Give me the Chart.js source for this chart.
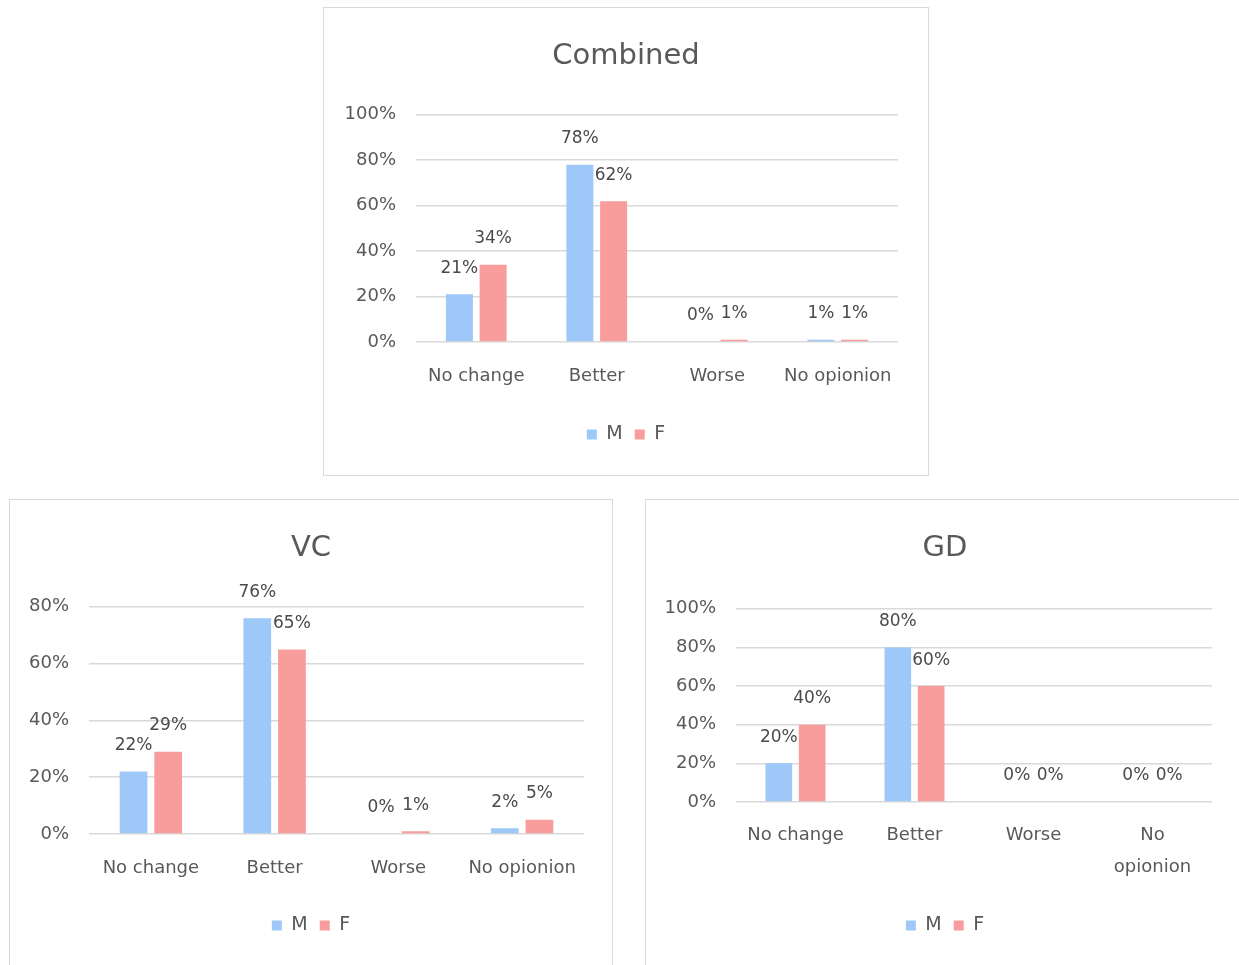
<!DOCTYPE html>
<html>
<head>
<meta charset="utf-8">
<script src="https://cdn.jsdelivr.net/npm/chart.js@4.4.1/dist/chart.umd.min.js"></script>
<style>
  body { margin: 0; background: #fff; width: 1239px; height: 965px; overflow: hidden; position: relative; }
  .panel { position: absolute; border: 1px solid #d9d9d9; background: #fff; box-sizing: border-box; }
  .panel canvas { display: block; }
</style>
</head>
<body>
<div class="panel" style="left:323px; top:7px; width:606px; height:469px;"><canvas id="combinedChart"></canvas></div>
<div class="panel" style="left:9px; top:499px; width:604px; height:490px;"><canvas id="vcChart"></canvas></div>
<div class="panel" style="left:645px; top:499px; width:600px; height:490px;"><canvas id="gdChart"></canvas></div>

<script>
// answers per group, in percent
var categories = ['No change', 'Better', 'Worse', 'No opionion'];
var gdCategories = ['No change', 'Better', 'Worse', ['No', 'opionion']];
var seriesNames = ['M', 'F'];

var combinedM = [21, 78, 0, 1];
var combinedF = [34, 62, 1, 1];

var vcM = [22, 76, 0, 2];
var vcF = [29, 65, 1, 5];

var gdM = [20, 80, 0, 0];
var gdF = [40, 60, 0, 0];

var yTicksCombined = [0, 20, 40, 60, 80, 100];
var yTicksVC = [0, 20, 40, 60, 80];
var yTicksGD = [0, 20, 40, 60, 80, 100];

var FONT = "'DejaVu Sans', sans-serif";
var TEXT = '#595959';
var GRID = '#d9d9d9';
var BLUE = '#9dc8f7';
var PINK = '#f89c9c';

// value above each bar, like the spreadsheet data labels
var valueLabels = {
    id: 'valueLabels',
    afterDatasetsDraw: function(chart){
        var ctx = chart.ctx;
        ctx.save();
        ctx.font = '17px ' + FONT;
        ctx.fillStyle = '#4a4a4a';
        ctx.textAlign = 'center';
        ctx.textBaseline = 'middle';
        chart.data.datasets.forEach(function(ds, i){
            chart.getDatasetMeta(i).data.forEach(function(bar, j){
                ctx.fillText(ds.data[j] + '%', bar.x, bar.y - 26);
            });
        });
        ctx.restore();
    }
};

function drawPanel(canvasID, title, labels, mData, fData, yTicks, sizes){
    var el = document.getElementById(canvasID);
    el.width = sizes.w;
    el.height = sizes.h;

    var config = {
        type: 'bar',
        data: {
            labels: labels,
            datasets: [
                { label: seriesNames[0], data: mData, backgroundColor: BLUE },
                { label: seriesNames[1], data: fData, backgroundColor: PINK },
            ]
        },
        options: {
            responsive: false,
            animation: false,
            events: [],
            categoryPercentage: 0.56,
            barPercentage: 0.8,
            layout: {
                padding: { left: 0, right: 0, top: 0, bottom: sizes.bottom }
            },
            plugins: {
                title: {
                    display: true,
                    text: title,
                    color: TEXT,
                    font: { family: FONT, size: 29, weight: 'normal' },
                    padding: { top: sizes.titleTop, bottom: sizes.titleBottom }
                },
                legend: {
                    display: true,
                    position: 'bottom',
                    labels: {
                        color: TEXT,
                        font: { family: FONT, size: 19 },
                        boxWidth: 10,
                        boxHeight: 10,
                        padding: 12
                    }
                },
                tooltip: { enabled: false }
            },
            scales: {
                x: {
                    grid: { display: false, drawTicks: false },
                    border: { display: false },
                    ticks: {
                        color: TEXT,
                        font: { family: FONT, size: 18, lineHeight: sizes.xLine },
                        padding: sizes.xPad,
                        maxRotation: 0,
                        autoSkip: false
                    },
                    afterFit: function(scale){ scale.height = sizes.xHeight; }
                },
                y: {
                    min: 0,
                    max: yTicks[yTicks.length - 1],
                    afterBuildTicks: function(scale){
                        scale.ticks = yTicks.map(function(v){ return { value: v }; });
                    },
                    grid: { color: GRID, lineWidth: 1.5, drawTicks: false },
                    border: { display: false },
                    ticks: {
                        color: TEXT,
                        font: { family: FONT, size: 18 },
                        padding: 20,
                        callback: function(v){ return v + '%'; }
                    },
                    afterFit: function(scale){ scale.width = sizes.left; }
                },
                // empty right-hand axis, keeps the margin so title and legend stay centred
                yRight: {
                    position: 'right',
                    grid: { display: false },
                    border: { display: false },
                    ticks: { display: false },
                    afterFit: function(scale){ scale.width = sizes.right; }
                }
            }
        },
        plugins: [valueLabels]
    };
    new Chart(el, config);
}

drawPanel('combinedChart', 'Combined', categories, combinedM, combinedF, yTicksCombined,
    { w: 604, h: 467, left: 92, right: 30, bottom: 21, titleTop: 31, titleBottom: 41, xPad: 24, xLine: 1.2, xHeight: 71 });

drawPanel('vcChart', 'VC', categories, vcM, vcF, yTicksVC,
    { w: 602, h: 488, left: 79, right: 28, bottom: 43, titleTop: 31, titleBottom: 41, xPad: 24, xLine: 1.2, xHeight: 70 });

drawPanel('gdChart', 'GD', gdCategories, gdM, gdF, yTicksGD,
    { w: 598, h: 488, left: 90, right: 32, bottom: 43, titleTop: 31, titleBottom: 43, xPad: 18, xLine: 1.75, xHeight: 102 });
</script>
</body>
</html>
